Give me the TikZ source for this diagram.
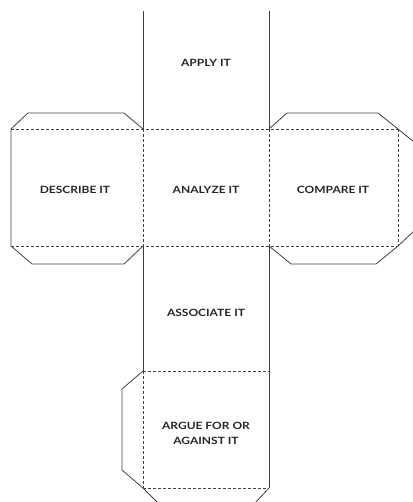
\documentclass[tikz,border=0pt]{standalone}
\usepackage{fontspec}
\setmainfont{Lato}[FakeStretch=1.2]
\begin{document}
\begin{tikzpicture}[x=1pt,y=-1pt,
  cut/.style={draw=black!75, line width=0.8pt, line join=miter},
  fold/.style={draw=black!75, line width=0.8pt, dash pattern=on 3pt off 2pt},
  lbl/.style={font=\fontsize{10}{15}\selectfont\bfseries, align=center, inner sep=0pt, text=black!85}]
\useasboundingbox (0,0) rectangle (412,502);
% solid cut lines
\draw[cut] (143,11) -- (143,129);
\draw[cut] (269,11) -- (269,129);
\draw[cut] (143,129) -- (124,113) -- (28,113) -- (11,129) -- (11,246) -- (32,264) -- (124,264) -- (143,246);
\draw[cut] (269,129) -- (287,113) -- (378,113) -- (398,129) -- (414,142);
\draw[cut] (269,246) -- (291,264) -- (376,264) -- (398,246) -- (414,231);
\draw[cut] (143,246) -- (143,371);
\draw[cut] (269,246) -- (269,488);
\draw[cut] (143,371) -- (122,389) -- (122,470) -- (143,488) -- (159,504);
\draw[cut] (269,488) -- (254,504);
% dashed fold lines
\draw[fold] (11,129) -- (398,129);
\draw[fold] (11,246) -- (398,246);
\draw[fold] (143,129) -- (143,246);
\draw[fold] (269,129) -- (269,246);
\draw[fold] (398,129) -- (398,246);
\draw[fold] (143,371) -- (269,371);
\draw[fold] (143,371) -- (143,488);
\draw[fold] (143,488) -- (269,488);
% labels
\node[lbl] (apply) at (206,63) {APPLY IT};
\node[lbl] (describe) at (75,190) {DESCRIBE IT};
\node[lbl] (analyze) at (206,190) {ANALYZE IT};
\node[lbl] (compare) at (333,190) {COMPARE IT};
\node[lbl] (associate) at (206,313) {ASSOCIATE IT};
\node[lbl] (argue) at (206,433.5) {ARGUE FOR OR\\AGAINST IT};
\end{tikzpicture}
\end{document}
